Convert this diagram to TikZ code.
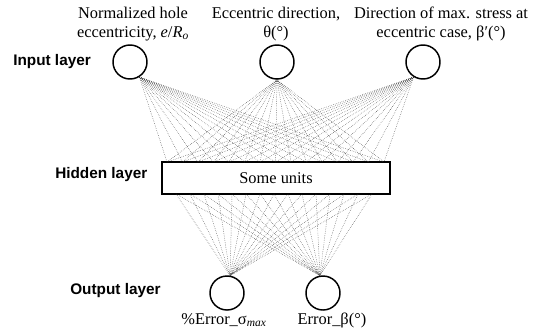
\documentclass[tikz,border=0pt]{standalone}
\usepackage{fontspec}
\setmainfont{Liberation Serif}
\setsansfont{Liberation Sans}
\begin{document}
\begin{tikzpicture}[x=0.75pt,y=-0.75pt,
  unit/.style={circle,draw,line width=1.1pt,minimum size=25.5pt,inner sep=0pt},
  layerlbl/.style={font=\sffamily\bfseries\fontsize{11.5}{13}\selectfont,anchor=west,inner sep=0pt},
  toplbl/.style={font=\fontsize{12.3}{14.25}\selectfont,align=center,inner sep=0pt},
  serif/.style={font=\fontsize{12.3}{14.25}\selectfont},
  wire/.style={line width=0.35pt,black!80,densely dotted}]
\useasboundingbox (0,0) rectangle (534,330);
\node[unit] (i1) at (130,62) {};
\node[unit] (i2) at (277,62) {};
\node[unit] (i3) at (423,62) {};
\node[draw,line width=1.1pt,minimum width=171pt,minimum height=24pt,inner sep=0pt,serif] (h) at (276,178) {Some units};
\node[unit] (o1) at (227,293) {};
\node[unit] (o2) at (323,293) {};
\node[layerlbl] (li) at (13,62) {Input layer};
\node[layerlbl] (lh) at (55,175) {Hidden layer};
\node[layerlbl] (lo) at (70,291) {Output layer};
\node[toplbl] (t1) at (133,24) {Normalized hole\\eccentricity, \textit{e}/\textit{R}\textsubscript{\textit{o}}};
\node[toplbl] (t2) at (276,24) {Eccentric direction,\\θ(°)};
\node[toplbl] (t3) at (441,24) {Direction of max. stress at\\eccentric case, β′(°)};
\node[serif] (b1) at (224,320) {\%Error\_σ\textsubscript{\textit{max}}};
\node[serif] (b2) at (332,320) {Error\_β(°)};
\foreach \k in {0,...,14}{
  \coordinate (ht\k) at ({167+\k*15.5},162);
  \coordinate (hb\k) at ({176+\k*14},194);
  \draw[wire] (i1.-58) -- (ht\k);
  \draw[wire] (i2.south) -- (ht\k);
  \draw[wire] (i3.-122) -- (ht\k);
  \draw[wire] (hb\k) -- (o1.80);
  \draw[wire] (hb\k) -- (o2.100);
}
\end{tikzpicture}
\end{document}
